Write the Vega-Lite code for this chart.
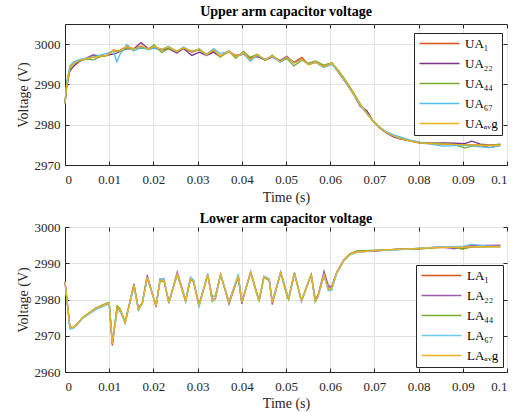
{
  "$schema": "https://vega.github.io/schema/vega-lite/v6.json",
  "padding": {"left": 15, "top": 4, "right": 4, "bottom": 0},
  "background": "white",
  "datasets": {
    "upper": [
      {"t":0,"UA1":2985.3,"UA22":2985.3,"UA44":2985.3,"UA67":2985.3,"UAavg":2985.3},
      {"t":0.0004,"UA1":2990.2,"UA22":2989.5,"UA44":2990.0,"UA67":2990.6,"UAavg":2990.0},
      {"t":0.0011,"UA1":2994.0,"UA22":2993.3,"UA44":2993.8,"UA67":2994.6,"UAavg":2994.0},
      {"t":0.002,"UA1":2995.1,"UA22":2994.6,"UA44":2995.2,"UA67":2995.6,"UAavg":2995.2},
      {"t":0.0034,"UA1":2996.0,"UA22":2995.8,"UA44":2995.9,"UA67":2996.2,"UAavg":2996.0},
      {"t":0.005,"UA1":2996.4,"UA22":2996.6,"UA44":2996.3,"UA67":2996.5,"UAavg":2996.4},
      {"t":0.0064,"UA1":2996.8,"UA22":2997.3,"UA44":2996.1,"UA67":2996.9,"UAavg":2996.8},
      {"t":0.008,"UA1":2997.0,"UA22":2997.1,"UA44":2996.9,"UA67":2997.3,"UAavg":2997.0},
      {"t":0.0094,"UA1":2997.2,"UA22":2997.2,"UA44":2997.1,"UA67":2997.7,"UAavg":2997.2},
      {"t":0.011,"UA1":2998.6,"UA22":2997.6,"UA44":2998.4,"UA67":2998.3,"UAavg":2998.5},
      {"t":0.0117,"UA1":2998.3,"UA22":2997.8,"UA44":2998.1,"UA67":2995.6,"UAavg":2998.2},
      {"t":0.0125,"UA1":2998.5,"UA22":2998.2,"UA44":2998.3,"UA67":2997.6,"UAavg":2998.4},
      {"t":0.014,"UA1":2999.4,"UA22":2998.9,"UA44":2999.0,"UA67":2999.9,"UAavg":2999.5},
      {"t":0.0155,"UA1":2998.8,"UA22":2998.8,"UA44":2998.9,"UA67":2998.3,"UAavg":2998.7},
      {"t":0.0172,"UA1":2999.5,"UA22":3000.4,"UA44":2999.0,"UA67":2999.2,"UAavg":2999.6},
      {"t":0.0189,"UA1":2998.7,"UA22":2998.8,"UA44":2998.9,"UA67":2998.6,"UAavg":2998.7},
      {"t":0.0202,"UA1":2999.3,"UA22":2999.0,"UA44":2999.8,"UA67":2999.1,"UAavg":2999.5},
      {"t":0.0219,"UA1":2998.7,"UA22":2998.5,"UA44":2997.9,"UA67":2998.7,"UAavg":2998.6},
      {"t":0.0234,"UA1":2999.2,"UA22":2998.9,"UA44":2998.9,"UA67":2999.5,"UAavg":2999.3},
      {"t":0.0253,"UA1":2998.3,"UA22":2997.8,"UA44":2998.3,"UA67":2998.1,"UAavg":2998.2},
      {"t":0.0268,"UA1":2999.0,"UA22":2998.9,"UA44":2999.0,"UA67":2999.3,"UAavg":2999.1},
      {"t":0.0287,"UA1":2998.0,"UA22":2997.2,"UA44":2998.3,"UA67":2998.1,"UAavg":2998.2},
      {"t":0.0304,"UA1":2998.7,"UA22":2998.0,"UA44":2998.5,"UA67":2998.9,"UAavg":2998.8},
      {"t":0.032,"UA1":2997.4,"UA22":2997.2,"UA44":2997.5,"UA67":2997.2,"UAavg":2997.3},
      {"t":0.0336,"UA1":2998.4,"UA22":2998.0,"UA44":2998.7,"UA67":2998.9,"UAavg":2998.6},
      {"t":0.0351,"UA1":2997.1,"UA22":2996.9,"UA44":2996.8,"UA67":2997.7,"UAavg":2997.0},
      {"t":0.0371,"UA1":2998.1,"UA22":2998.3,"UA44":2998.2,"UA67":2998.1,"UAavg":2998.2},
      {"t":0.0386,"UA1":2997.2,"UA22":2997.0,"UA44":2996.5,"UA67":2996.9,"UAavg":2996.9},
      {"t":0.0404,"UA1":2997.6,"UA22":2997.5,"UA44":2998.2,"UA67":2997.6,"UAavg":2997.8},
      {"t":0.0419,"UA1":2996.4,"UA22":2996.6,"UA44":2996.7,"UA67":2995.8,"UAavg":2996.2},
      {"t":0.0435,"UA1":2997.2,"UA22":2996.9,"UA44":2997.5,"UA67":2997.2,"UAavg":2997.3},
      {"t":0.0453,"UA1":2996.0,"UA22":2996.1,"UA44":2996.0,"UA67":2996.3,"UAavg":2996.1},
      {"t":0.0469,"UA1":2997.0,"UA22":2996.8,"UA44":2997.3,"UA67":2996.9,"UAavg":2997.1},
      {"t":0.0487,"UA1":2995.8,"UA22":2995.9,"UA44":2995.6,"UA67":2995.5,"UAavg":2995.7},
      {"t":0.0502,"UA1":2996.6,"UA22":2997.0,"UA44":2996.4,"UA67":2996.7,"UAavg":2996.8},
      {"t":0.0518,"UA1":2995.5,"UA22":2995.4,"UA44":2994.6,"UA67":2995.3,"UAavg":2995.3},
      {"t":0.0536,"UA1":2996.7,"UA22":2996.2,"UA44":2996.0,"UA67":2996.1,"UAavg":2996.2},
      {"t":0.0551,"UA1":2994.9,"UA22":2995.0,"UA44":2995.3,"UA67":2995.0,"UAavg":2994.9},
      {"t":0.0567,"UA1":2995.6,"UA22":2995.5,"UA44":2995.8,"UA67":2995.6,"UAavg":2995.6},
      {"t":0.0585,"UA1":2994.5,"UA22":2994.3,"UA44":2994.8,"UA67":2994.2,"UAavg":2994.4},
      {"t":0.0604,"UA1":2995.2,"UA22":2995.3,"UA44":2995.4,"UA67":2995.0,"UAavg":2995.3},
      {"t":0.062,"UA1":2993.0,"UA22":2992.8,"UA44":2993.3,"UA67":2992.9,"UAavg":2993.0},
      {"t":0.0638,"UA1":2990.2,"UA22":2990.0,"UA44":2990.6,"UA67":2990.1,"UAavg":2990.3},
      {"t":0.0653,"UA1":2987.5,"UA22":2987.6,"UA44":2987.9,"UA67":2987.4,"UAavg":2987.6},
      {"t":0.0668,"UA1":2985.0,"UA22":2984.6,"UA44":2985.2,"UA67":2984.8,"UAavg":2985.0},
      {"t":0.0683,"UA1":2982.8,"UA22":2983.5,"UA44":2982.9,"UA67":2982.7,"UAavg":2982.8},
      {"t":0.0698,"UA1":2980.8,"UA22":2980.7,"UA44":2980.9,"UA67":2980.6,"UAavg":2980.8},
      {"t":0.0713,"UA1":2979.2,"UA22":2979.1,"UA44":2979.3,"UA67":2979.3,"UAavg":2979.2},
      {"t":0.0728,"UA1":2978.0,"UA22":2977.9,"UA44":2978.0,"UA67":2978.2,"UAavg":2978.0},
      {"t":0.0743,"UA1":2977.2,"UA22":2977.0,"UA44":2977.2,"UA67":2977.5,"UAavg":2977.2},
      {"t":0.0758,"UA1":2976.5,"UA22":2976.5,"UA44":2976.6,"UA67":2977.0,"UAavg":2976.6},
      {"t":0.078,"UA1":2976.0,"UA22":2976.1,"UA44":2976.0,"UA67":2976.2,"UAavg":2976.0},
      {"t":0.0804,"UA1":2975.4,"UA22":2975.6,"UA44":2975.5,"UA67":2975.6,"UAavg":2975.5},
      {"t":0.083,"UA1":2975.3,"UA22":2975.4,"UA44":2975.4,"UA67":2975.1,"UAavg":2975.3},
      {"t":0.0855,"UA1":2975.2,"UA22":2975.5,"UA44":2975.3,"UA67":2974.7,"UAavg":2975.2},
      {"t":0.088,"UA1":2975.1,"UA22":2975.4,"UA44":2975.1,"UA67":2974.8,"UAavg":2975.1},
      {"t":0.0905,"UA1":2975.0,"UA22":2975.3,"UA44":2974.2,"UA67":2974.9,"UAavg":2975.0},
      {"t":0.092,"UA1":2975.0,"UA22":2975.9,"UA44":2974.7,"UA67":2974.8,"UAavg":2975.0},
      {"t":0.094,"UA1":2974.9,"UA22":2975.2,"UA44":2974.9,"UA67":2974.5,"UAavg":2974.9},
      {"t":0.096,"UA1":2974.3,"UA22":2975.0,"UA44":2974.8,"UA67":2974.3,"UAavg":2974.9},
      {"t":0.0985,"UA1":2974.9,"UA22":2975.1,"UA44":2975.2,"UA67":2974.8,"UAavg":2974.9}
    ],
    "lower": [
      {"t":0,"LA1":2984.9,"LA22":2984.9,"LA44":2984.9,"LA67":2984.9,"LAavg":2984.9},
      {"t":0.0011,"LA1":2972.4,"LA22":2972.3,"LA44":2972.5,"LA67":2971.8,"LAavg":2972.4},
      {"t":0.0019,"LA1":2972.2,"LA22":2972.1,"LA44":2972.3,"LA67":2972.0,"LAavg":2972.2},
      {"t":0.003,"LA1":2973.5,"LA22":2973.5,"LA44":2973.6,"LA67":2973.3,"LAavg":2973.5},
      {"t":0.004,"LA1":2975.0,"LA22":2975.0,"LA44":2975.1,"LA67":2974.8,"LAavg":2975.0},
      {"t":0.0055,"LA1":2976.3,"LA22":2976.2,"LA44":2976.4,"LA67":2976.0,"LAavg":2976.3},
      {"t":0.007,"LA1":2977.6,"LA22":2977.5,"LA44":2977.7,"LA67":2977.2,"LAavg":2977.6},
      {"t":0.0085,"LA1":2978.2,"LA22":2978.3,"LA44":2978.5,"LA67":2978.0,"LAavg":2978.3},
      {"t":0.0094,"LA1":2978.6,"LA22":2978.8,"LA44":2979.0,"LA67":2978.6,"LAavg":2978.8},
      {"t":0.01,"LA1":2978.8,"LA22":2979.0,"LA44":2979.2,"LA67":2979.1,"LAavg":2979.0},
      {"t":0.0107,"LA1":2967.3,"LA22":2967.8,"LA44":2968.0,"LA67":2968.5,"LAavg":2967.8},
      {"t":0.0118,"LA1":2977.6,"LA22":2977.9,"LA44":2978.3,"LA67":2976.5,"LAavg":2977.8},
      {"t":0.0125,"LA1":2977.0,"LA22":2977.1,"LA44":2977.4,"LA67":2976.7,"LAavg":2977.1},
      {"t":0.0136,"LA1":2973.5,"LA22":2973.6,"LA44":2973.8,"LA67":2973.4,"LAavg":2973.6},
      {"t":0.0156,"LA1":2984.0,"LA22":2984.4,"LA44":2983.8,"LA67":2983.6,"LAavg":2984.0},
      {"t":0.0166,"LA1":2977.3,"LA22":2977.4,"LA44":2977.5,"LA67":2976.9,"LAavg":2977.3},
      {"t":0.0175,"LA1":2979.0,"LA22":2979.1,"LA44":2979.2,"LA67":2978.8,"LAavg":2979.0},
      {"t":0.0186,"LA1":2986.2,"LA22":2986.8,"LA44":2986.0,"LA67":2986.1,"LAavg":2986.2},
      {"t":0.0206,"LA1":2978.2,"LA22":2977.9,"LA44":2978.4,"LA67":2978.2,"LAavg":2978.2},
      {"t":0.0215,"LA1":2985.3,"LA22":2985.7,"LA44":2985.1,"LA67":2985.4,"LAavg":2985.3},
      {"t":0.0224,"LA1":2985.2,"LA22":2985.4,"LA44":2985.0,"LA67":2985.9,"LAavg":2985.2},
      {"t":0.0235,"LA1":2979.2,"LA22":2979.0,"LA44":2979.4,"LA67":2979.0,"LAavg":2979.2},
      {"t":0.0254,"LA1":2987.1,"LA22":2987.6,"LA44":2986.9,"LA67":2987.0,"LAavg":2987.1},
      {"t":0.0273,"LA1":2979.6,"LA22":2979.8,"LA44":2979.4,"LA67":2979.9,"LAavg":2979.6},
      {"t":0.0284,"LA1":2985.8,"LA22":2986.0,"LA44":2985.6,"LA67":2986.2,"LAavg":2985.8},
      {"t":0.0291,"LA1":2985.0,"LA22":2985.1,"LA44":2984.8,"LA67":2985.4,"LAavg":2985.0},
      {"t":0.0303,"LA1":2978.3,"LA22":2978.5,"LA44":2978.4,"LA67":2977.6,"LAavg":2978.3},
      {"t":0.0323,"LA1":2986.9,"LA22":2986.9,"LA44":2986.7,"LA67":2987.3,"LAavg":2986.9},
      {"t":0.0333,"LA1":2979.7,"LA22":2979.9,"LA44":2980.9,"LA67":2979.4,"LAavg":2979.7},
      {"t":0.034,"LA1":2980.2,"LA22":2980.3,"LA44":2981.0,"LA67":2980.0,"LAavg":2980.2},
      {"t":0.0352,"LA1":2986.9,"LA22":2987.0,"LA44":2986.8,"LA67":2987.1,"LAavg":2986.9},
      {"t":0.0371,"LA1":2979.2,"LA22":2978.7,"LA44":2979.4,"LA67":2979.3,"LAavg":2979.2},
      {"t":0.0392,"LA1":2986.5,"LA22":2986.4,"LA44":2986.3,"LA67":2987.1,"LAavg":2986.5},
      {"t":0.04,"LA1":2979.3,"LA22":2978.8,"LA44":2979.4,"LA67":2979.5,"LAavg":2979.3},
      {"t":0.042,"LA1":2987.5,"LA22":2987.7,"LA44":2987.3,"LA67":2987.4,"LAavg":2987.5},
      {"t":0.0439,"LA1":2979.6,"LA22":2979.8,"LA44":2979.4,"LA67":2979.5,"LAavg":2979.6},
      {"t":0.045,"LA1":2986.2,"LA22":2986.4,"LA44":2986.1,"LA67":2986.3,"LAavg":2986.2},
      {"t":0.0462,"LA1":2985.4,"LA22":2985.6,"LA44":2985.2,"LA67":2985.8,"LAavg":2985.4},
      {"t":0.0469,"LA1":2979.2,"LA22":2978.6,"LA44":2979.4,"LA67":2979.3,"LAavg":2979.2},
      {"t":0.0488,"LA1":2987.5,"LA22":2987.6,"LA44":2987.3,"LA67":2987.7,"LAavg":2987.5},
      {"t":0.0503,"LA1":2981.0,"LA22":2981.2,"LA44":2980.6,"LA67":2981.3,"LAavg":2981.0},
      {"t":0.0506,"LA1":2980.3,"LA22":2980.4,"LA44":2979.9,"LA67":2980.5,"LAavg":2980.3},
      {"t":0.0519,"LA1":2987.3,"LA22":2987.4,"LA44":2987.2,"LA67":2987.5,"LAavg":2987.3},
      {"t":0.0535,"LA1":2979.6,"LA22":2979.5,"LA44":2979.7,"LA67":2979.4,"LAavg":2979.6},
      {"t":0.0557,"LA1":2986.9,"LA22":2987.0,"LA44":2986.8,"LA67":2987.0,"LAavg":2986.9},
      {"t":0.0566,"LA1":2980.2,"LA22":2979.8,"LA44":2979.3,"LA67":2979.6,"LAavg":2979.7},
      {"t":0.0572,"LA1":2981.0,"LA22":2980.9,"LA44":2980.6,"LA67":2980.6,"LAavg":2980.9},
      {"t":0.0586,"LA1":2986.8,"LA22":2987.8,"LA44":2986.6,"LA67":2986.7,"LAavg":2986.8},
      {"t":0.0596,"LA1":2983.2,"LA22":2983.8,"LA44":2982.6,"LA67":2982.4,"LAavg":2982.8},
      {"t":0.0603,"LA1":2983.2,"LA22":2983.5,"LA44":2982.8,"LA67":2982.5,"LAavg":2983.1},
      {"t":0.0615,"LA1":2987.5,"LA22":2987.6,"LA44":2987.3,"LA67":2987.2,"LAavg":2987.5},
      {"t":0.063,"LA1":2990.7,"LA22":2990.8,"LA44":2990.6,"LA67":2990.5,"LAavg":2990.7},
      {"t":0.0645,"LA1":2992.5,"LA22":2992.6,"LA44":2992.7,"LA67":2992.3,"LAavg":2992.5},
      {"t":0.066,"LA1":2993.1,"LA22":2993.2,"LA44":2993.4,"LA67":2993.0,"LAavg":2993.1},
      {"t":0.07,"LA1":2993.5,"LA22":2993.3,"LA44":2993.6,"LA67":2993.5,"LAavg":2993.5},
      {"t":0.075,"LA1":2993.8,"LA22":2993.9,"LA44":2993.8,"LA67":2993.6,"LAavg":2993.8},
      {"t":0.08,"LA1":2994.1,"LA22":2994.0,"LA44":2993.9,"LA67":2994.2,"LAavg":2994.1},
      {"t":0.085,"LA1":2994.4,"LA22":2994.6,"LA44":2994.4,"LA67":2994.5,"LAavg":2994.4},
      {"t":0.088,"LA1":2994.3,"LA22":2994.0,"LA44":2994.4,"LA67":2994.6,"LAavg":2994.4},
      {"t":0.09,"LA1":2994.0,"LA22":2994.5,"LA44":2993.9,"LA67":2994.7,"LAavg":2994.4},
      {"t":0.092,"LA1":2994.5,"LA22":2994.9,"LA44":2994.6,"LA67":2995.3,"LAavg":2994.6},
      {"t":0.095,"LA1":2994.6,"LA22":2994.9,"LA44":2994.5,"LA67":2994.8,"LAavg":2994.6},
      {"t":0.0985,"LA1":2994.7,"LA22":2995.0,"LA44":2994.5,"LA67":2994.6,"LAavg":2994.6}
    ]
  },
  "config": {
    "font": "Liberation Serif",
    "view": {"stroke": "#262626", "strokeWidth": 1},
    "title": {"font": "Liberation Serif", "fontSize": 14, "fontWeight": "bold", "color": "#000000", "offset": 5},
    "axis": {
      "labelFont": "Liberation Serif", "labelFontSize": 13, "labelColor": "#262626",
      "titleFont": "Liberation Serif", "titleFontSize": 14, "titleFontWeight": "normal", "titleColor": "#262626",
      "gridColor": "#e3e3e3", "gridWidth": 1, "domainColor": "#262626", "tickColor": "#262626",
      "tickSize": -4
    },
    "axisX": {"labelPadding": 12},
    "axisY": {"labelPadding": 9},
    "legend": {
      "labelFont": "Liberation Serif", "labelFontSize": 13, "labelColor": "#000000",
      "strokeColor": "#262626", "fillColor": "white", "padding": 4,
      "symbolType": "M-1,0H7", "symbolSize": 100, "symbolStrokeWidth": 1.5, "rowPadding": 6,
      "labelOffset": 34
    },
    "concat": {"spacing": 6}
  },
  "vconcat": [
    {
      "title": {"text": "Upper arm capacitor voltage", "offset": 5},
      "width": 442, "height": 141,
      "data": {"name": "upper"},
      "transform": [{"fold": ["UA1","UA22","UA44","UA67","UAavg"], "as": ["s","v"]}],
      "layer": [
        {
          "mark": {"type": "line", "strokeWidth": 1.3},
          "encoding": {
            "x": {"field": "t", "type": "quantitative", "scale": {"domain": [0, 0.1]},
                  "axis": {"title": "Time (s)", "values": [0,0.01,0.02,0.03,0.04,0.05,0.06,0.07,0.08,0.09,0.1], "format": "~g", "titlePadding": 4}},
            "y": {"field": "v", "type": "quantitative", "scale": {"domain": [2970, 3005], "zero": false},
                  "axis": {"title": "Voltage (V)", "values": [2970,2980,2990,3000], "format": "d", "titlePadding": 4}},
            "color": {"field": "s", "type": "nominal",
                      "scale": {"domain": ["UA1","UA22","UA44","UA67","UAavg"], "range": ["#D95319","#7E2F8E","#77AC30","#4DBEEE","#EDB120"]},
                      "legend": {"title": null, "orient": "none", "legendX": 349, "legendY": 9,
                                 "labelExpr": "{'UA1':'UA₁','UA22':'UA₂₂','UA44':'UA₄₄','UA67':'UA₆₇','UAavg':'UAₐᵥg'}[datum.label]"}}
          }
        },
        {
          "mark": {"type": "point", "opacity": 0},
          "encoding": {
            "x": {"field": "t", "type": "quantitative",
                  "axis": {"orient": "top", "title": null, "labels": false, "grid": false, "domain": false, "values": [0,0.01,0.02,0.03,0.04,0.05,0.06,0.07,0.08,0.09,0.1]}},
            "y": {"field": "v", "type": "quantitative",
                  "axis": {"orient": "right", "title": null, "labels": false, "grid": false, "domain": false, "values": [2970,2980,2990,3000]}}
          }
        }
      ],
      "resolve": {"axis": {"x": "independent", "y": "independent"}}
    },
    {
      "title": {"text": "Lower arm capacitor voltage", "offset": -5},
      "width": 442, "height": 145,
      "data": {"name": "lower"},
      "transform": [{"fold": ["LA1","LA22","LA44","LA67","LAavg"], "as": ["s","v"]}],
      "layer": [
        {
          "mark": {"type": "line", "strokeWidth": 1.3},
          "encoding": {
            "x": {"field": "t", "type": "quantitative", "scale": {"domain": [0, 0.1]},
                  "axis": {"title": "Time (s)", "values": [0,0.01,0.02,0.03,0.04,0.05,0.06,0.07,0.08,0.09,0.1], "format": "~g", "titlePadding": 3}},
            "y": {"field": "v", "type": "quantitative", "scale": {"domain": [2960, 3000], "zero": false},
                  "axis": {"title": "Voltage (V)", "values": [2960,2970,2980,2990,3000], "format": "d", "titlePadding": 4}},
            "color": {"field": "s", "type": "nominal",
                      "scale": {"domain": ["LA1","LA22","LA44","LA67","LAavg"], "range": ["#D95319","#9B5AAE","#77AC30","#6CCAF2","#EDB120"]},
                      "legend": {"title": null, "orient": "none", "legendX": 351, "legendY": 38,
                                 "labelExpr": "{'LA1':'LA₁','LA22':'LA₂₂','LA44':'LA₄₄','LA67':'LA₆₇','LAavg':'LAₐᵥg'}[datum.label]"}}
          }
        },
        {
          "mark": {"type": "point", "opacity": 0},
          "encoding": {
            "x": {"field": "t", "type": "quantitative",
                  "axis": {"orient": "top", "title": null, "labels": false, "grid": false, "domain": false, "values": [0,0.01,0.02,0.03,0.04,0.05,0.06,0.07,0.08,0.09,0.1]}},
            "y": {"field": "v", "type": "quantitative",
                  "axis": {"orient": "right", "title": null, "labels": false, "grid": false, "domain": false, "values": [2960,2970,2980,2990,3000]}}
          }
        }
      ],
      "resolve": {"axis": {"x": "independent", "y": "independent"}}
    }
  ],
  "resolve": {"scale": {"color": "independent"}}
}
